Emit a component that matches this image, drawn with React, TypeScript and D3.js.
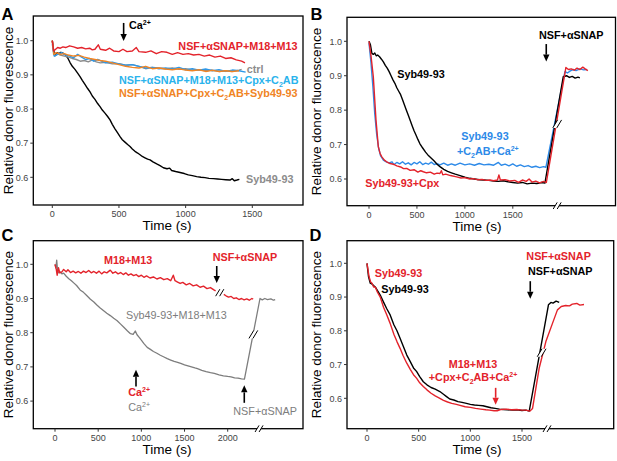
import React from "react";
import * as d3 from "d3";

type Pt = [number, number];

const FONT = "'Liberation Sans', Arial, Helvetica, sans-serif";

// ---------- tick values ----------
const yTickVals = [0.6, 0.7, 0.8, 0.9, 1.0];
const xTicksABD = [0, 500, 1000, 1500];
const xTicksC = [0, 500, 1000, 1500, 2000];

// ---------- Panel A series (time s, relative fluorescence) ----------
const aSyb4993: Pt[] = [[0,1.0],[10,0.972],[20,0.96],[35,0.965],[50,0.962],[65,0.966],[83,0.963],[100,0.958],[115,0.95],[133,0.936],[150,0.925],[170,0.916],[190,0.905],[208,0.895],[225,0.884],[245,0.872],[265,0.86],[283,0.85],[300,0.838],[320,0.828],[340,0.816],[358,0.807],[375,0.797],[395,0.788],[415,0.778],[433,0.768],[450,0.755],[470,0.742],[490,0.73],[508,0.719],[525,0.71],[545,0.703],[565,0.696],[583,0.69],[600,0.683],[620,0.676],[640,0.671],[658,0.666],[675,0.661],[695,0.657],[715,0.653],[733,0.651],[755,0.645],[783,0.639],[808,0.634],[833,0.628],[860,0.625],[880,0.627],[895,0.62],[925,0.617],[958,0.614],[990,0.611],[1020,0.607],[1050,0.605],[1083,0.602],[1115,0.6],[1145,0.599],[1175,0.597],[1208,0.596],[1240,0.595],[1270,0.594],[1300,0.593],[1333,0.592],[1350,0.596],[1365,0.59],[1385,0.592],[1403,0.594]];
const aCtrl: Pt[] = [[0,1.0],[10,0.96],[20,0.955],[40,0.962],[60,0.958],[90,0.955],[120,0.952],[150,0.948],[180,0.945],[210,0.94],[240,0.942],[270,0.938],[300,0.944],[330,0.938],[360,0.935],[400,0.937],[450,0.932],[500,0.933],[550,0.928],[600,0.93],[650,0.925],[700,0.918],[750,0.922],[800,0.92],[850,0.917],[900,0.92],[950,0.916],[1000,0.918],[1050,0.914],[1100,0.915],[1150,0.912],[1200,0.914],[1250,0.91],[1300,0.912],[1350,0.91],[1400,0.914],[1420,0.916]];
const aM18M13CpxC2AB: Pt[] = [[0,0.99],[15,0.955],[40,0.96],[70,0.965],[100,0.958],[130,0.955],[160,0.95],[190,0.96],[220,0.952],[250,0.945],[280,0.948],[310,0.94],[340,0.945],[370,0.94],[400,0.935],[450,0.937],[500,0.932],[550,0.928],[600,0.93],[650,0.925],[700,0.92],[750,0.922],[800,0.918],[850,0.92],[900,0.917],[950,0.922],[1000,0.915],[1050,0.918],[1100,0.914],[1150,0.917],[1200,0.912],[1250,0.915],[1300,0.91],[1350,0.914],[1400,0.912],[1450,0.908]];
const aCpxC2ABSyb: Pt[] = [[0,1.0],[12,0.96],[30,0.965],[60,0.96],[90,0.962],[120,0.958],[160,0.955],[200,0.957],[240,0.952],[280,0.948],[320,0.945],[360,0.942],[400,0.94],[450,0.935],[500,0.93],[550,0.925],[600,0.922],[650,0.92],[700,0.925],[750,0.918],[800,0.92],[850,0.917],[900,0.915],[950,0.918],[1000,0.914],[1050,0.912],[1100,0.915],[1150,0.91],[1200,0.913],[1250,0.91],[1300,0.912],[1350,0.91],[1400,0.912]];
const aM18M13: Pt[] = [[0,1.0],[10,0.97],[25,0.975],[40,0.98],[60,0.978],[80,0.982],[100,0.98],[130,0.985],[160,0.982],[190,0.978],[220,0.98],[250,0.976],[280,0.978],[300,0.973],[320,0.975],[345,0.988],[360,0.975],[400,0.972],[430,0.978],[460,0.97],[500,0.968],[530,0.975],[560,0.968],[600,0.97],[630,0.98],[650,0.968],[700,0.966],[740,0.97],[780,0.962],[820,0.968],[860,0.966],[900,0.96],[940,0.965],[980,0.96],[1020,0.962],[1060,0.958],[1100,0.96],[1140,0.955],[1180,0.958],[1220,0.952],[1260,0.955],[1300,0.948],[1340,0.95],[1380,0.944],[1420,0.94],[1445,0.935]];

// ---------- Panel B series ----------
const bSyb: Pt[] = [[0,1.0],[15,0.99],[30,0.965],[45,0.962],[60,0.966],[75,0.958],[90,0.96],[110,0.955],[130,0.948],[150,0.94],[170,0.93],[190,0.922],[210,0.912],[230,0.9],[250,0.888],[270,0.878],[290,0.865],[310,0.855],[330,0.845],[350,0.83],[370,0.815],[390,0.8],[410,0.785],[430,0.77],[450,0.755],[470,0.74],[490,0.728],[510,0.715],[530,0.703],[560,0.69],[590,0.678],[620,0.668],[650,0.66],[680,0.652],[710,0.643],[740,0.636],[780,0.628],[820,0.622],[860,0.618],[900,0.614],[950,0.61],[1000,0.605],[1050,0.602],[1100,0.6],[1150,0.598],[1200,0.597],[1250,0.596],[1300,0.594],[1350,0.593],[1400,0.595],[1450,0.592],[1500,0.59],[1550,0.588],[1600,0.59],[1650,0.586],[1700,0.588],[1750,0.587],[1800,0.59],[1835,0.588],[2026,0.897],[2060,0.9],[2090,0.895],[2120,0.898],[2150,0.893],[2180,0.896],[2200,0.894]];
const bSybC2ABCa: Pt[] = [[0,0.995],[20,0.94],[40,0.87],[60,0.79],[80,0.73],[100,0.69],[120,0.668],[150,0.655],[180,0.65],[210,0.647],[240,0.65],[260,0.642],[290,0.648],[320,0.644],[350,0.65],[380,0.643],[410,0.647],[440,0.641],[470,0.648],[500,0.644],[530,0.65],[560,0.642],[590,0.646],[620,0.643],[650,0.649],[680,0.642],[710,0.645],[740,0.641],[780,0.646],[820,0.64],[860,0.644],[900,0.64],[950,0.646],[1000,0.641],[1050,0.644],[1100,0.64],[1150,0.645],[1200,0.641],[1250,0.643],[1300,0.64],[1350,0.648],[1380,0.64],[1420,0.643],[1460,0.638],[1500,0.644],[1540,0.637],[1580,0.641],[1620,0.636],[1660,0.639],[1700,0.634],[1740,0.637],[1780,0.633],[1820,0.636],[1845,0.634],[2044,0.912],[2070,0.908],[2100,0.914],[2130,0.918],[2160,0.915],[2200,0.92],[2240,0.917],[2270,0.918]];
const bSybCpx: Pt[] = [[0,1.0],[20,0.96],[45,0.897],[73,0.771],[97,0.694],[115,0.675],[132,0.665],[160,0.655],[184,0.65],[220,0.645],[254,0.643],[290,0.638],[330,0.635],[360,0.63],[393,0.631],[430,0.625],[470,0.627],[510,0.62],[540,0.624],[567,0.621],[600,0.618],[640,0.62],[680,0.614],[710,0.617],[740,0.616],[755,0.624],[770,0.612],[800,0.614],[850,0.61],[914,0.606],[960,0.603],[1000,0.604],[1050,0.6],[1088,0.601],[1130,0.598],[1180,0.599],[1220,0.596],[1262,0.597],[1300,0.595],[1340,0.597],[1355,0.612],[1370,0.597],[1420,0.598],[1470,0.594],[1520,0.596],[1560,0.59],[1600,0.597],[1640,0.593],[1670,0.6],[1700,0.591],[1740,0.594],[1780,0.589],[1820,0.593],[1850,0.59],[2054,0.924],[2080,0.918],[2110,0.92],[2140,0.916],[2170,0.922],[2200,0.918],[2230,0.925],[2255,0.92],[2283,0.915]];

// ---------- Panel C series ----------
const cM18M13Pre: Pt[] = [[0,1.0],[15,0.985],[25,0.968],[40,0.99],[55,0.975],[80,0.978],[100,0.985],[130,0.978],[150,0.984],[180,0.976],[210,0.98],[240,0.975],[270,0.979],[300,0.974],[330,0.98],[360,0.976],[390,0.982],[420,0.975],[450,0.979],[480,0.974],[510,0.98],[540,0.972],[570,0.978],[600,0.975],[640,0.983],[670,0.974],[700,0.978],[730,0.972],[760,0.976],[790,0.97],[820,0.975],[850,0.968],[880,0.972],[910,0.967],[940,0.97],[970,0.964],[1000,0.968],[1030,0.962],[1060,0.966],[1100,0.96],[1140,0.963],[1180,0.957],[1220,0.961],[1260,0.955],[1300,0.958],[1340,0.952],[1370,0.968],[1390,0.952],[1420,0.948],[1450,0.944],[1480,0.947],[1520,0.94],[1560,0.944],[1600,0.937],[1640,0.94],[1680,0.933],[1720,0.936],[1760,0.929],[1800,0.932],[1840,0.925],[1860,0.922]];
const cM18M13Post: Pt[] = [[1955,0.912],[1980,0.908],[2010,0.904],[2040,0.906],[2070,0.9],[2100,0.902],[2130,0.897],[2160,0.9],[2190,0.896],[2220,0.899],[2250,0.895],[2280,0.9],[2295,0.898]];
const cSybM18M13: Pt[] = [[0,1.0],[10,0.99],[20,1.012],[30,0.98],[45,0.975],[60,0.978],[80,0.972],[100,0.974],[130,0.965],[160,0.958],[190,0.952],[220,0.945],[250,0.938],[291,0.925],[330,0.918],[370,0.908],[410,0.898],[450,0.89],[485,0.881],[520,0.873],[560,0.865],[600,0.857],[640,0.85],[680,0.842],[720,0.835],[760,0.825],[800,0.815],[840,0.805],[874,0.797],[905,0.795],[930,0.805],[950,0.794],[980,0.785],[1000,0.778],[1030,0.768],[1068,0.757],[1100,0.752],[1140,0.745],[1180,0.74],[1220,0.734],[1262,0.729],[1300,0.724],[1340,0.72],[1380,0.716],[1420,0.713],[1456,0.71],[1500,0.706],[1540,0.703],[1580,0.7],[1620,0.697],[1650,0.695],[1700,0.69],[1750,0.686],[1800,0.683],[1845,0.681],[1900,0.677],[1950,0.674],[2000,0.672],[2039,0.671],[2080,0.668],[2120,0.667],[2160,0.665],[2194,0.664],[2374,0.9],[2400,0.896],[2430,0.9],[2460,0.897],[2500,0.899],[2530,0.895],[2550,0.897]];

// ---------- Panel D series ----------
const dSybBlack: Pt[] = [[0,1.0],[15,0.96],[32,0.941],[50,0.938],[64,0.934],[80,0.93],[100,0.92],[128,0.906],[160,0.885],[190,0.866],[224,0.847],[260,0.818],[290,0.8],[320,0.778],[350,0.755],[385,0.728],[420,0.708],[450,0.69],[481,0.679],[510,0.664],[545,0.649],[580,0.64],[620,0.632],[660,0.627],[705,0.62],[740,0.612],[770,0.605],[801,0.598],[840,0.595],[880,0.59],[920,0.588],[962,0.585],[1000,0.582],[1040,0.58],[1080,0.579],[1122,0.578],[1160,0.575],[1200,0.572],[1240,0.57],[1282,0.568],[1320,0.567],[1360,0.566],[1410,0.565],[1450,0.566],[1500,0.564],[1538,0.565],[1570,0.562],[1756,0.877],[1780,0.884],[1800,0.882],[1830,0.888],[1860,0.884]];
const dSybRed: Pt[] = [[0,1.0],[10,0.98],[20,0.96],[35,0.945],[50,0.94],[64,0.93],[80,0.93],[100,0.915],[128,0.9],[160,0.87],[190,0.848],[224,0.822],[260,0.79],[290,0.768],[320,0.748],[350,0.726],[385,0.704],[420,0.685],[450,0.67],[481,0.659],[510,0.646],[545,0.635],[580,0.625],[620,0.615],[660,0.607],[705,0.6],[740,0.594],[780,0.589],[820,0.585],[865,0.582],[900,0.579],[950,0.575],[1000,0.573],[1050,0.57],[1100,0.568],[1150,0.566],[1186,0.565],[1230,0.563],[1260,0.563],[1300,0.567],[1346,0.568],[1400,0.566],[1450,0.567],[1500,0.565],[1538,0.565],[1577,0.562],[1602,0.57],[1666,0.689],[1731,0.768],[1795,0.822],[1843,0.862],[1880,0.872],[1923,0.875],[1960,0.874],[1987,0.879],[2030,0.881],[2060,0.876],[2100,0.878]];

// ---------- colours ----------
const RED = "#e3232b";
const BLACK = "#000000";
const GRAY_A = "#8c8c8c";
const GRAY_C = "#7d7d7d";
const ORANGE = "#f08424";
const BLUE_A = "#2e98e8";
const CYAN_LABEL = "#2ab3ec";
const BLUE_B = "#2d8ae8";

type Box = { l: number; t: number; r: number; b: number };
interface PanelCfg {
  box: Box;
  xDom: [number, number];
  xRng: [number, number];
  yRng: [number, number];
  xTicks: number[];
  breakT?: number;
  titleX: number;
  yTitleX: number;
  label: string;
  labelX: number;
  labelY: number;
}

const cfgA: PanelCfg = { box: { l: 33.3, t: 16, r: 303, b: 205 }, xDom: [0, 1500], xRng: [52.3, 252.3], yRng: [177.3, 40.7], xTicks: xTicksABD, titleX: 167, yTitleX: 12.8, label: "A", labelX: 1.5, labelY: 19.5 };
const cfgB: PanelCfg = { box: { l: 347, t: 17.3, r: 615.5, b: 205.7 }, xDom: [0, 1500], xRng: [369, 512.8], yRng: [179, 41.3], xTicks: xTicksABD, breakT: 1963, titleX: 477, yTitleX: 320.8, label: "B", labelX: 310.5, labelY: 19.5 };
const cfgC: PanelCfg = { box: { l: 33.3, t: 240.7, r: 303, b: 428.7 }, xDom: [0, 2000], xRng: [55, 227.7], yRng: [401.1, 264.3], xTicks: xTicksC, breakT: 2363, titleX: 167, yTitleX: 12.8, label: "C", labelX: 1.5, labelY: 241 };
const cfgD: PanelCfg = { box: { l: 347, t: 240.7, r: 613.7, b: 428.7 }, xDom: [0, 1500], xRng: [367, 522], yRng: [398.3, 263.3], xTicks: xTicksABD, breakT: 1742, titleX: 477, yTitleX: 320.8, label: "D", labelX: 309.5, labelY: 241 };

function scales(cfg: PanelCfg) {
  const x = d3.scaleLinear().domain(cfg.xDom).range(cfg.xRng);
  const y = d3.scaleLinear().domain([0.6, 1.0]).range(cfg.yRng);
  return { x, y };
}

function Slashes({ cx, cy, h = 4 }: { cx: number; cy: number; h?: number }) {
  const w = h * 0.6;
  const pts = [[cx - 2 - w, cy + h], [cx - 2 + w, cy - h], [cx + 2 + w, cy - h], [cx + 2 - w, cy + h]];
  return (
    <g>
      <polygon points={pts.map((p) => p.join(",")).join(" ")} fill="#fff" />
      <line x1={cx - 2 - w} y1={cy + h} x2={cx - 2 + w} y2={cy - h} stroke="#000" strokeWidth={1} />
      <line x1={cx + 2 - w} y1={cy + h} x2={cx + 2 + w} y2={cy - h} stroke="#000" strokeWidth={1} />
    </g>
  );
}

function Arrow({ x, yTail, yTip, color = "#000" }: { x: number; yTail: number; yTip: number; color?: string }) {
  const dir = yTip > yTail ? 1 : -1;
  const head = 7;
  const hw = 3.2;
  const base = yTip - dir * head;
  return (
    <g>
      <line x1={x} x2={x} y1={yTail} y2={base} stroke={color} strokeWidth={1.6} />
      <polygon points={`${x - hw},${base} ${x + hw},${base} ${x},${yTip}`} fill={color} />
    </g>
  );
}

function Frame({ cfg }: { cfg: PanelCfg }) {
  const { x, y } = scales(cfg);
  const { box } = cfg;
  const cy = (box.t + box.b) / 2;
  return (
    <g fontFamily={FONT}>
      <rect x={box.l} y={box.t} width={box.r - box.l} height={box.b - box.t} fill="none" stroke="#000" strokeWidth={1.3} />
      {cfg.xTicks.map((t) => (
        <g key={"x" + t}>
          <line x1={x(t)} x2={x(t)} y1={box.b} y2={box.b + 3} stroke="#333" strokeWidth={1} />
          <text x={x(t)} y={box.b + 12} textAnchor="middle" fontSize={9} fill="#444">{t}</text>
        </g>
      ))}
      {yTickVals.map((v) => (
        <g key={"y" + v}>
          <line x1={box.l - 3} x2={box.l} y1={y(v)} y2={y(v)} stroke="#333" strokeWidth={1} />
          <text x={box.l - 5} y={y(v) + 3.2} textAnchor="end" fontSize={9} fill="#444">{d3.format(".1f")(v)}</text>
        </g>
      ))}
      {cfg.breakT !== undefined && <Slashes cx={x(cfg.breakT)} cy={box.b} h={3.3} />}
      <text x={cfg.titleX} y={box.b + 25} textAnchor="middle" fontSize={13.5} fill="#000">Time (s)</text>
      <text transform={`translate(${cfg.yTitleX},${cy}) rotate(-90)`} textAnchor="middle" fontSize={13.5} fill="#000">Relative donor fluorescence</text>
      <text x={cfg.labelX} y={cfg.labelY} fontSize={16.5} fontWeight="bold" fill="#000">{cfg.label}</text>
    </g>
  );
}

function Series({ cfg, data, color, w = 1.4 }: { cfg: PanelCfg; data: Pt[]; color: string; w?: number }) {
  const { x, y } = scales(cfg);
  const line = d3.line<Pt>().x((d) => x(d[0])).y((d) => y(d[1]));
  return <path d={line(data) || ""} fill="none" stroke={color} strokeWidth={w} strokeLinejoin="round" />;
}

const LBL = 10.8;

function Lbl({ x, y, color, children, anchor = "start", bold = true }: any) {
  return (
    <text x={x} y={y} fill={color} fontSize={LBL} fontWeight={bold ? "bold" : "normal"} textAnchor={anchor} fontFamily={FONT}>
      {children}
    </text>
  );
}

function PanelA() {
  const cfg = cfgA;
  const { x, y } = scales(cfg);
  return (
    <g>
      <Series cfg={cfg} data={aSyb4993} color={BLACK} />
      <Series cfg={cfg} data={aCtrl} color={GRAY_A} />
      <Series cfg={cfg} data={aM18M13CpxC2AB} color={BLUE_A} />
      <Series cfg={cfg} data={aCpxC2ABSyb} color={ORANGE} />
      <Series cfg={cfg} data={aM18M13} color={RED} />
      <Arrow x={x(535)} yTail={y(1.052)} yTip={y(0.999)} />
      <Lbl x={x(575)} y={y(1.034)} color="#000">Ca<tspan fontSize={7} dy={-4}>2+</tspan></Lbl>
      <Lbl x={x(1839)} y={y(0.973)} color={RED} anchor="end">NSF+αSNAP+M18+M13</Lbl>
      <Lbl x={x(1458)} y={y(0.906)} color={GRAY_A}>ctrl</Lbl>
      <Lbl x={x(500)} y={y(0.873)} color={CYAN_LABEL}>NSF+αSNAP+M18+M13+Cpx+C<tspan fontSize={7} dy={2.5}>2</tspan><tspan dy={-2.5}>AB</tspan></Lbl>
      <Lbl x={x(500)} y={y(0.834)} color={ORANGE}>NSF+αSNAP+Cpx+C<tspan fontSize={7} dy={2.5}>2</tspan><tspan dy={-2.5}>AB+Syb49-93</tspan></Lbl>
      <Lbl x={x(1453)} y={y(0.583)} color={GRAY_A}>Syb49-93</Lbl>
      <Frame cfg={cfg} />
    </g>
  );
}

function PanelB() {
  const cfg = cfgB;
  const { x, y } = scales(cfg);
  return (
    <g>
      <Series cfg={cfg} data={bSybC2ABCa} color={BLUE_B} />
      <Series cfg={cfg} data={bSyb} color={BLACK} />
      <Series cfg={cfg} data={bSybCpx} color={RED} />
      <Slashes cx={x(1963)} cy={y(0.76)} h={4} />
      <Lbl x={x(2110)} y={y(1.006)} color="#000" anchor="middle">NSF+αSNAP</Lbl>
      <Arrow x={x(1849)} yTail={y(0.992)} yTip={y(0.941)} />
      <Lbl x={x(295)} y={y(0.894)} color="#000">Syb49-93</Lbl>
      <Lbl x={x(962)} y={y(0.713)} color={BLUE_B}>Syb49-93</Lbl>
      <Lbl x={x(918)} y={y(0.669)} color={BLUE_B}>+C<tspan fontSize={7} dy={2.5}>2</tspan><tspan dy={-2.5}>AB+Ca</tspan><tspan fontSize={7} dy={-4}>2+</tspan></Lbl>
      <Lbl x={x(-39)} y={y(0.577)} color={RED}>Syb49-93+Cpx</Lbl>
      <Frame cfg={cfg} />
    </g>
  );
}

function PanelC() {
  const cfg = cfgC;
  const { x, y } = scales(cfg);
  return (
    <g>
      <Series cfg={cfg} data={cSybM18M13} color={GRAY_C} w={1.3} />
      <Series cfg={cfg} data={cM18M13Pre} color={RED} />
      <Series cfg={cfg} data={cM18M13Post} color={RED} />
      <Slashes cx={x(1908)} cy={y(0.917)} h={3.5} />
      <Slashes cx={x(2297)} cy={y(0.795)} h={4} />
      <Lbl x={x(567)} y={y(1.001)} color={RED}>M18+M13</Lbl>
      <Lbl x={x(2200)} y={y(1.009)} color={RED} anchor="middle">NSF+αSNAP</Lbl>
      <Arrow x={x(1873)} yTail={y(0.995)} yTip={y(0.945)} />
      <Lbl x={x(822)} y={y(0.84)} color={GRAY_C} bold={false}>Syb49-93+M18+M13</Lbl>
      <Arrow x={x(938)} yTail={y(0.643)} yTip={y(0.692)} />
      <Lbl x={x(849)} y={y(0.614)} color={RED}>Ca<tspan fontSize={7} dy={-4}>2+</tspan></Lbl>
      <Lbl x={x(849)} y={y(0.572)} color={GRAY_C} bold={false}>Ca<tspan fontSize={7} dy={-4}>2+</tspan></Lbl>
      <Arrow x={x(2192)} yTail={y(0.595)} yTip={y(0.646)} />
      <Lbl x={x(2065)} y={y(0.56)} color={GRAY_C} bold={false}>NSF+αSNAP</Lbl>
      <Frame cfg={cfg} />
    </g>
  );
}

function PanelD() {
  const cfg = cfgD;
  const { x, y } = scales(cfg);
  return (
    <g>
      <Series cfg={cfg} data={dSybBlack} color={BLACK} />
      <Series cfg={cfg} data={dSybRed} color={RED} />
      <Slashes cx={x(1690)} cy={y(0.735)} h={4} />
      <Lbl x={x(75)} y={y(0.9585)} color={RED}>Syb49-93</Lbl>
      <Lbl x={x(138)} y={y(0.912)} color="#000">Syb49-93</Lbl>
      <Lbl x={x(1542)} y={y(1.009)} color={RED}>NSF+αSNAP</Lbl>
      <Lbl x={x(1558)} y={y(0.966)} color="#000">NSF+αSNAP</Lbl>
      <Arrow x={x(1580)} yTail={y(0.947)} yTip={y(0.895)} />
      <Lbl x={x(1026)} y={y(0.69)} color={RED} anchor="middle">M18+M13</Lbl>
      <Lbl x={x(1026)} y={y(0.65)} color={RED} anchor="middle">+Cpx+C<tspan fontSize={7} dy={2.5}>2</tspan><tspan dy={-2.5}>AB+Ca</tspan><tspan fontSize={7} dy={-4}>2+</tspan></Lbl>
      <Arrow x={x(1245)} yTail={y(0.631)} yTip={y(0.581)} color={RED} />
      <Frame cfg={cfg} />
    </g>
  );
}

export default function App() {
  return (
    <svg width={617} height={461} style={{ position: "fixed", left: 0, top: 0 }} fontFamily={FONT}>
      <rect x={0} y={0} width={617} height={461} fill="#fff" />
      <PanelA />
      <PanelB />
      <PanelC />
      <PanelD />
    </svg>
  );
}
